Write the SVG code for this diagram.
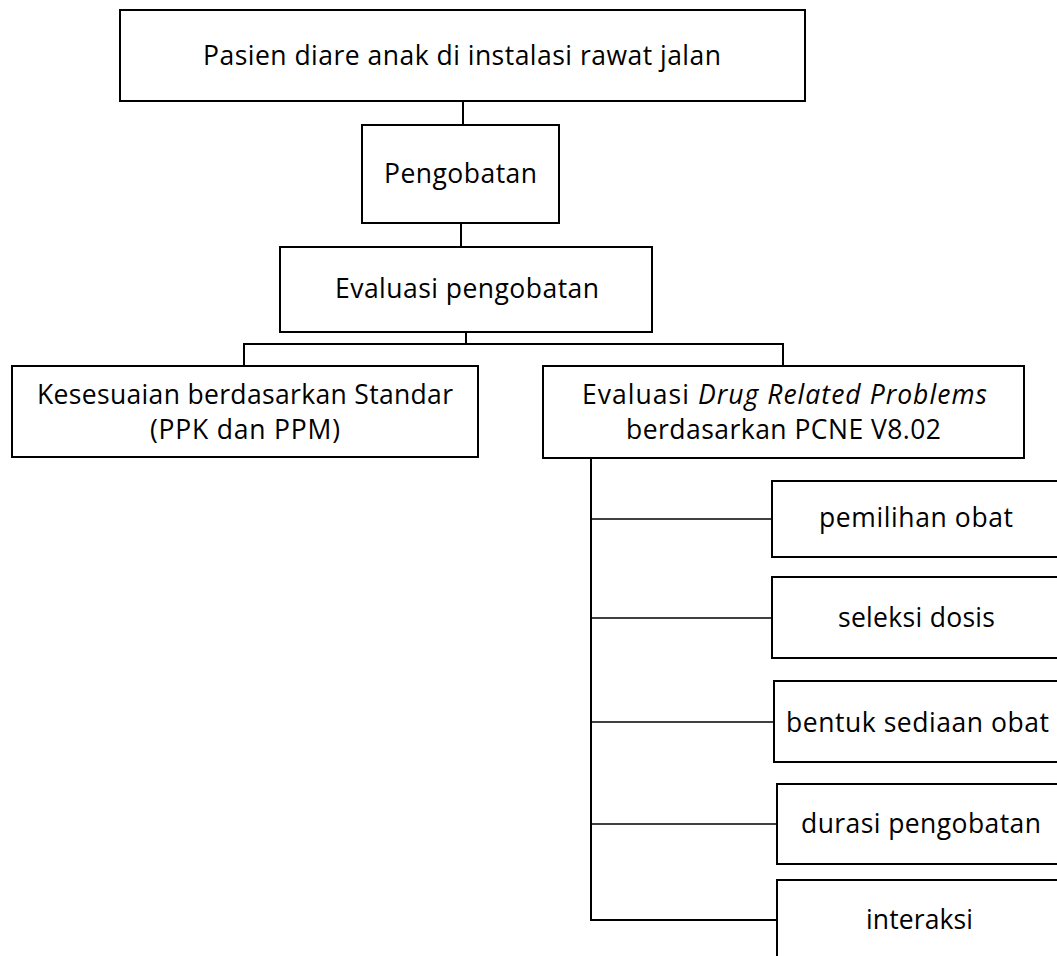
<svg xmlns="http://www.w3.org/2000/svg" width="1057" height="956" viewBox="0 0 1057 956">
<style>
.box{fill:#fff;stroke:#000;stroke-width:2}
.t{font-family:"Open Sans","Noto Sans","Liberation Sans",sans-serif;font-size:26.5px;fill:#000}
.c{fill:none;stroke:#000;stroke-width:2}
.b{fill:none;stroke:#000;stroke-width:1.4}
</style>
<rect width="1057" height="956" fill="#fff"/>
<g id="connectors">
<line class="c" x1="463" y1="101" x2="463" y2="125"/>
<line class="c" x1="461" y1="223" x2="461" y2="247"/>
<polyline class="c" points="466,332 466,344"/>
<polyline class="c" points="244,366 244,344 783,344 783,366"/>
<line class="c" x1="591" y1="458" x2="591" y2="920"/>
<line class="b" x1="591" y1="519" x2="772" y2="519"/>
<line class="b" x1="591" y1="618" x2="772" y2="618"/>
<line class="b" x1="591" y1="722" x2="774" y2="722"/>
<line class="b" x1="591" y1="824" x2="777" y2="824"/>
<line class="c" x1="590" y1="920" x2="777" y2="920"/>
</g>
<g id="n-pasien">
<rect class="box" x="120" y="10" width="685" height="91"/>
<text class="t" x="203" y="65" textLength="518" lengthAdjust="spacing">Pasien diare anak di instalasi rawat jalan</text>
</g>
<g id="n-pengobatan">
<rect class="box" x="362" y="125" width="197" height="98"/>
<text class="t" x="384" y="183" textLength="153" lengthAdjust="spacing">Pengobatan</text>
</g>
<g id="n-evaluasi">
<rect class="box" x="280" y="247" width="372" height="85"/>
<text class="t" x="335" y="298" textLength="264" lengthAdjust="spacing">Evaluasi pengobatan</text>
</g>
<g id="n-kesesuaian">
<rect class="box" x="12" y="366" width="466" height="91"/>
<text class="t" x="37" y="404" textLength="416" lengthAdjust="spacing">Kesesuaian berdasarkan Standar</text>
<text class="t" x="150" y="439" textLength="190" lengthAdjust="spacing">(PPK dan PPM)</text>
</g>
<g id="n-drp">
<rect class="box" x="543" y="366" width="481" height="92"/>
<text class="t" x="582" y="404" textLength="405" lengthAdjust="spacing">Evaluasi <tspan font-style="italic">Drug Related Problems</tspan></text>
<text class="t" x="626" y="439" textLength="315" lengthAdjust="spacing">berdasarkan PCNE V8.02</text>
</g>
<g id="n-pemilihan">
<rect class="box" x="772" y="481" width="300" height="76"/>
<text class="t" x="819" y="527" textLength="194" lengthAdjust="spacing">pemilihan obat</text>
</g>
<g id="n-seleksi">
<rect class="box" x="772" y="577" width="300" height="81"/>
<text class="t" x="838" y="627" textLength="157" lengthAdjust="spacing">seleksi dosis</text>
</g>
<g id="n-bentuk">
<rect class="box" x="774" y="681" width="300" height="81"/>
<text class="t" x="786" y="732" textLength="263" lengthAdjust="spacing">bentuk sediaan obat</text>
</g>
<g id="n-durasi">
<rect class="box" x="777" y="784" width="300" height="80"/>
<text class="t" x="801" y="833" textLength="240" lengthAdjust="spacing">durasi pengobatan</text>
</g>
<g id="n-interaksi">
<rect class="box" x="777" y="880" width="300" height="100"/>
<text class="t" x="866" y="929" textLength="107" lengthAdjust="spacing">interaksi</text>
</g>
</svg>
